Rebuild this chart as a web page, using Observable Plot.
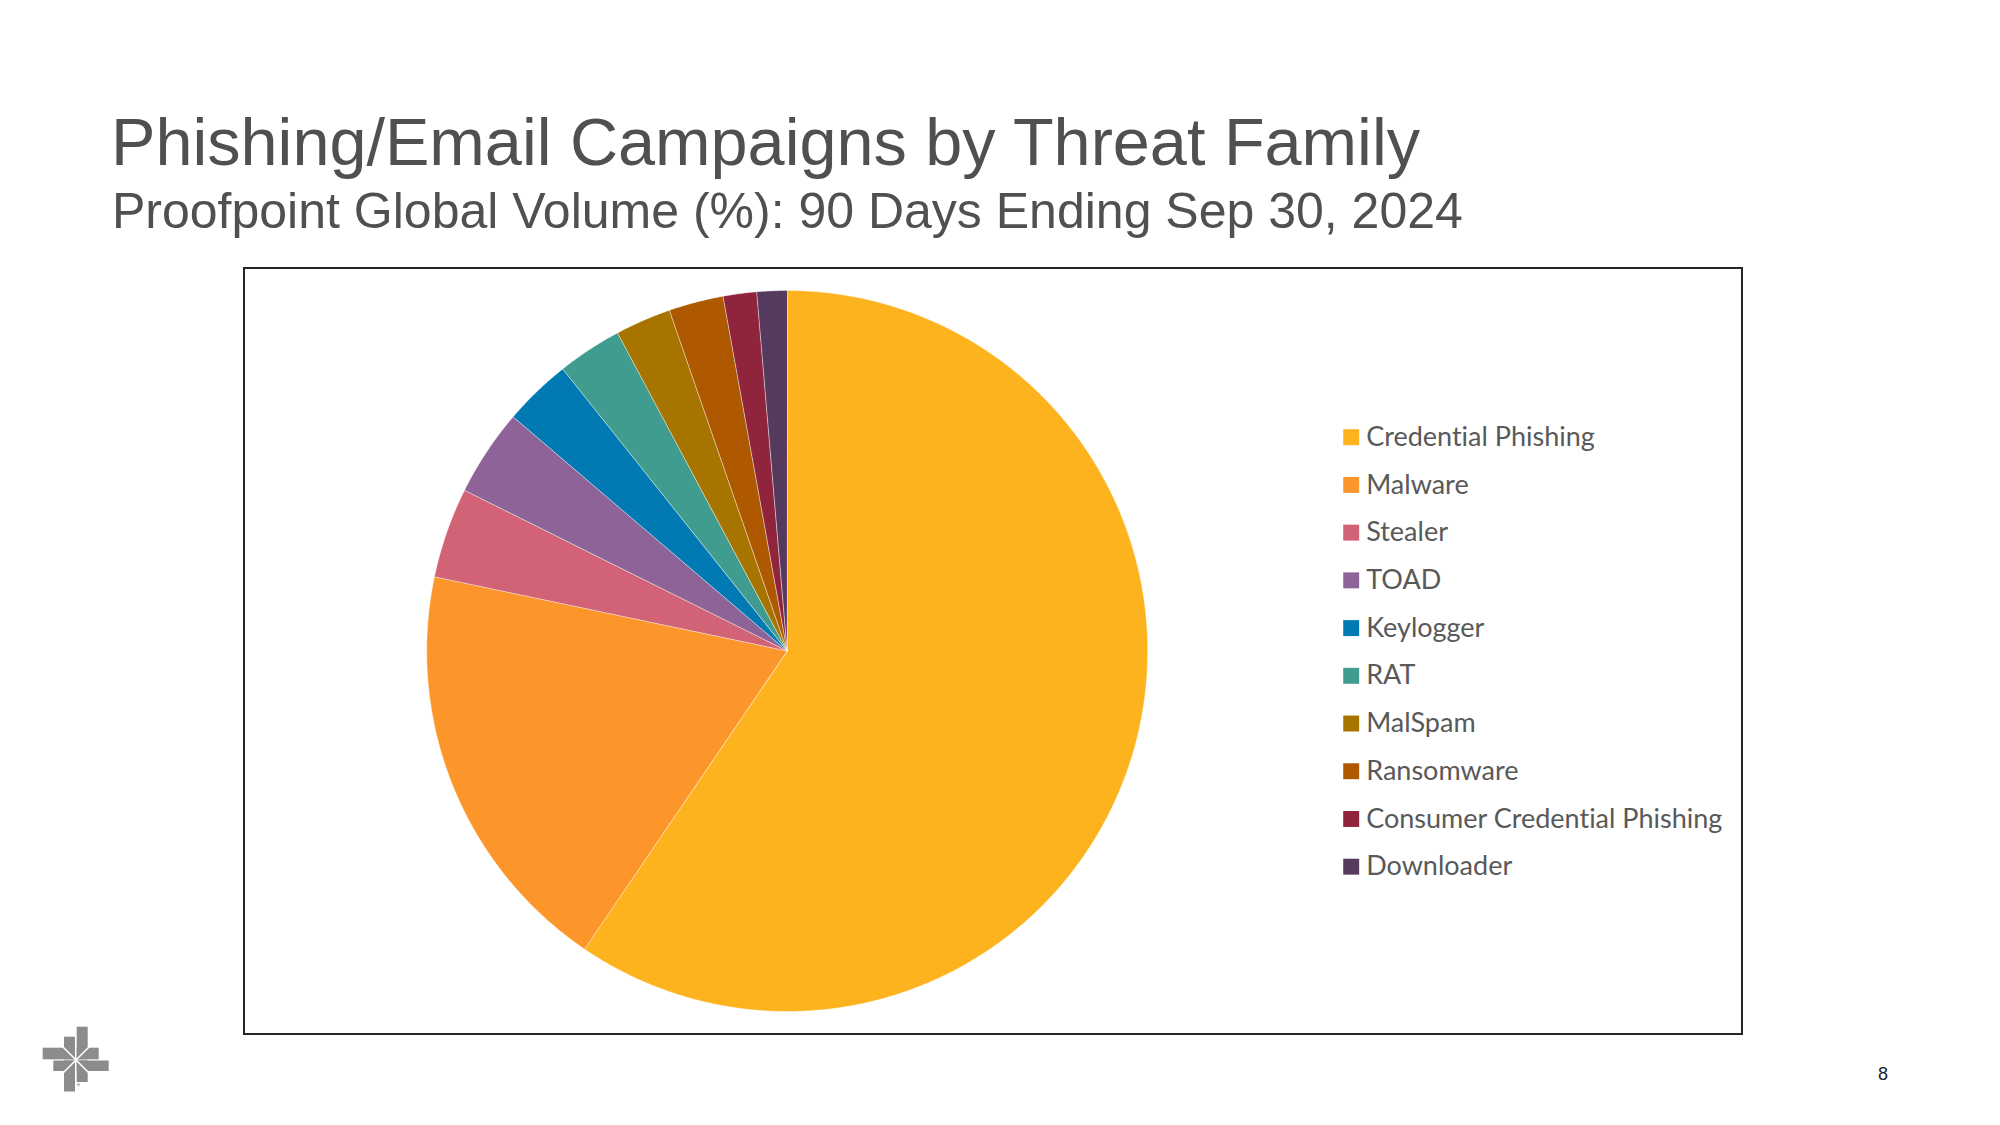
<!DOCTYPE html>
<html><head><meta charset="utf-8">
<script src="https://cdn.jsdelivr.net/npm/d3@7"></script>
<script src="https://cdn.jsdelivr.net/npm/@observablehq/plot@0.6"></script>
<style>
html,body{margin:0;padding:0;background:#fff;}
#page{position:relative;width:2000px;height:1125px;overflow:hidden;background:#fff;font-family:"Liberation Sans",Arial,sans-serif;}
#title{position:absolute;left:111px;top:108.5px;font-size:66.6px;line-height:66.6px;color:#505050;white-space:nowrap;}
#subtitle{position:absolute;left:112px;top:186px;font-size:50px;line-height:50px;color:#505050;white-space:nowrap;}
#frame{position:absolute;left:243px;top:267px;width:1500px;height:768px;box-sizing:border-box;border:2px solid #262626;}
#chart{position:absolute;left:244px;top:268px;width:1498px;height:766px;}
#chart text{font-variant-ligatures:none;font-feature-settings:"liga" 0;}
#pagenum{position:absolute;left:1878px;top:1065px;font-size:18px;line-height:18px;color:#222;}
#logo{position:absolute;left:0;top:0;}
</style></head>
<body>
<div id="page">
  <div id="title">Phishing/Email Campaigns by Threat Family</div>
  <div id="subtitle">Proofpoint Global Volume (%): 90 Days Ending Sep 30, 2024</div>
  <div id="frame"></div>
  <div id="chart"></div>
  <div id="pagenum">8</div>
  <svg id="logo" width="130" height="1125" viewBox="0 0 130 1125">
    <g fill="#8c8c8c">
      <rect x="76.7" y="1026.7" width="11" height="32.6"/>
      <rect x="64" y="1036.7" width="11" height="22.6"/>
      <rect x="42.7" y="1047.7" width="32.3" height="11.6"/>
      <rect x="76.7" y="1047.7" width="22" height="11.6"/>
      <rect x="53.3" y="1060.5" width="21.7" height="10.5"/>
      <rect x="76.7" y="1060.5" width="32" height="10.5"/>
      <rect x="64" y="1060.5" width="11" height="31"/>
      <rect x="76.7" y="1060.5" width="11" height="21.5"/>
    </g>
    <g stroke="#fff" stroke-width="1.6">
      <line x1="52" y1="1036" x2="100" y2="1084"/>
      <line x1="100" y1="1036" x2="52" y2="1084"/>
    </g>
    <circle cx="78.5" cy="1084.5" r="1.5" fill="#bbb"/>
  </svg>
</div>
<script>
// Data (percent of global volume), clockwise from 12 o'clock
const categories = ["Credential Phishing","Malware","Stealer","TOAD","Keylogger","RAT","MalSpam","Ransomware","Consumer Credential Phishing","Downloader"];
const shares = [59.5, 18.8, 4.05, 3.9, 3.05, 2.9, 2.5, 2.45, 1.5, 1.35];
const colors = ["#FDB31E","#FD962A","#D26276","#8E6498","#017AB4","#3F9C8E","#A87400","#AE5800","#8F243C","#563A5E"];

// Layout (pixels)
const W = 1498, H = 766, R = 360.5, cx = 542.7, cy = 382.5;

// Pie slice outlines in unit-circle coordinates, from d3.pie angles
const arcs = d3.pie().sort(null).value(d => d)(shares);
const slicePts = [];
arcs.forEach((s, i) => {
  const name = categories[i];
  slicePts.push({name, x: 0, y: 0});
  const n = Math.max(2, Math.ceil((s.endAngle - s.startAngle) / (Math.PI / 720)));
  for (let k = 0; k <= n; k++) {
    const a = s.startAngle + (s.endAngle - s.startAngle) * k / n;
    slicePts.push({name, x: Math.sin(a), y: Math.cos(a)});
  }
});

// Legend rows
const lgX = (1106.7) / R - cx / R;
const lgY0 = (cy - 168.7) / R;
const lgStep = 47.72 / R;
const legendRows = categories.map((c, i) => ({name: c, x: lgX, y: lgY0 - i * lgStep}));

const chart = Plot.plot({
  width: W, height: H,
  margin: 0,
  x: {domain: [-cx / R, (W - cx) / R], axis: null},
  y: {domain: [-(H - cy) / R, cy / R], axis: null},
  color: {domain: categories, range: colors},
  style: {background: "transparent", fontFamily: "Lato, 'Open Sans', sans-serif", overflow: "visible"},
  marks: [
    Plot.line(slicePts, {x: "x", y: "y", z: "name", fill: "name", stroke: "#ffffff", strokeWidth: 0.8, strokeOpacity: 0.55, curve: "linear-closed"}),
    Plot.dot(legendRows, {x: "x", y: "y", fill: "name", symbol: "square", r: 9}),
    Plot.text(legendRows, {x: "x", y: "y", text: "name", textAnchor: "start", dx: 15, fontSize: 27, fill: "#595959"})
  ]
});
document.getElementById("chart").appendChild(chart);
</script>
</body></html>
